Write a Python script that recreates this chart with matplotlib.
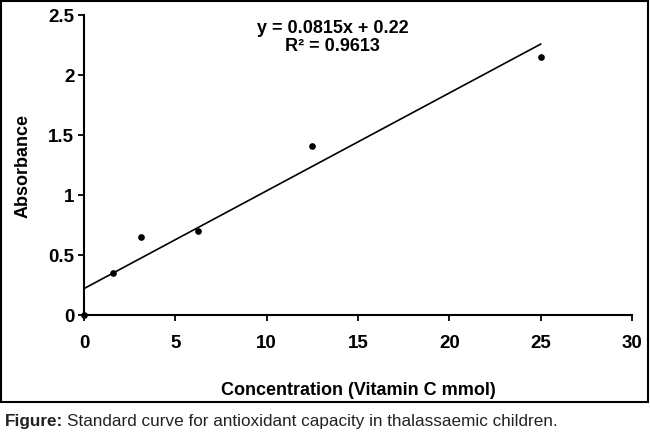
import matplotlib
matplotlib.use("Agg")
import matplotlib.pyplot as plt
from matplotlib import font_manager
from matplotlib.patches import Rectangle
import numpy as np

# vitamin C standard curve
conc = [0, 1.5625, 3.125, 6.25, 12.5, 25]
absorb = [0, 0.35, 0.65, 0.70, 1.41, 2.15]
slope = 0.0815
intercept = 0.22
r2 = 0.9613
xticks = [0, 5, 10, 15, 20, 25, 30]
yticks = [0, 0.5, 1, 1.5, 2, 2.5]
ytick_labels = ["0", "0.5", "1", "1.5", "2", "2.5"]

names = {f.name for f in font_manager.fontManager.ttflist}
narrow = "Liberation Sans Narrow" if "Liberation Sans Narrow" in names else "Liberation Sans"

plt.rcParams["font.family"] = ["Liberation Sans", "DejaVu Sans"]

fig = plt.figure(figsize=(6.5, 4.39), dpi=100)
ax = fig.add_axes([84 / 650, 1 - 316 / 439, 548 / 650, 300 / 439])

ax.plot(conc, absorb, "o", color="black", markersize=3.8, clip_on=False, zorder=3)
fit_x = np.array([0, max(conc)])
ax.plot(fit_x, slope * fit_x + intercept, color="black", lw=1.2)

ax.set_xlim(0, 30)
ax.set_ylim(0, 2.5)
ax.set_xticks(xticks)
ax.set_yticks(yticks)
ax.set_yticklabels(ytick_labels)
for s in ["top", "right"]:
    ax.spines[s].set_visible(False)
for s in ["left", "bottom"]:
    ax.spines[s].set_linewidth(1.5)
ax.tick_params(direction="out", length=4.5, width=1.3, labelsize=13.5)
ax.tick_params(axis="x", pad=9)
ax.tick_params(axis="y", pad=2.5)
for lab in ax.get_xticklabels() + ax.get_yticklabels():
    lab.set_fontweight("bold")

ax.set_xlabel("Concentration (Vitamin C mmol)", fontsize=13, fontweight="bold", labelpad=22)
ax.set_ylabel("Absorbance", fontsize=13, fontweight="bold", labelpad=12)

ax.text(0.454, 0.928, f"y = {slope}x + {intercept}\nR² = {r2}",
        transform=ax.transAxes, ha="center", va="center",
        fontsize=13, fontweight="bold", linespacing=1.1)

# outer frame and caption
fig.add_artist(Rectangle((1 / 650, 1 - 403 / 439), 647 / 650, 401 / 439,
                         transform=fig.transFigure, fill=False, lw=1.5, edgecolor="black"))
cap_size = 12.3 if narrow == "Liberation Sans" else 14
head = fig.text(5 / 650, 1 - 422 / 439, "Figure:", family=narrow, fontsize=cap_size,
                fontweight="bold", color="#222222", va="center")
renderer = fig.canvas.get_renderer()
bb = head.get_window_extent(renderer=renderer)
fig.text((bb.x1 + 4) / 650, 1 - 422 / 439,
         "Standard curve for antioxidant capacity in thalassaemic children.",
         family=narrow, fontsize=cap_size, color="#222222", va="center")

fig.savefig("out.png", dpi=100)
